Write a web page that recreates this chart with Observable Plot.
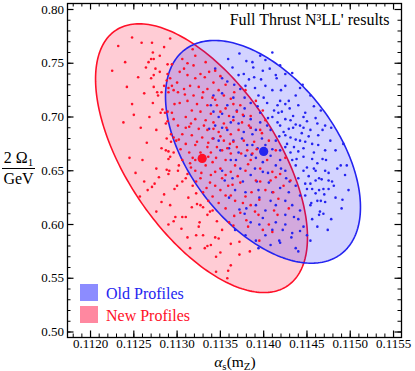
<!DOCTYPE html>
<html><head><meta charset="utf-8">
<script src="https://cdn.jsdelivr.net/npm/d3@7"></script>
<script src="https://cdn.jsdelivr.net/npm/@observablehq/plot@0.6"></script>
<style>body{margin:0;background:#fff} svg{display:block}</style>
</head><body><div id="chart"></div>
<script>
const titleText = "Full Thrust N\u00B3LL' results";
const seriesNames = ["Old Profiles", "New Profiles"];
const xTicks = [0.1120, 0.1125, 0.1130, 0.1135, 0.1140, 0.1145, 0.1150, 0.1155];
const xTickLabels = ["0.1120", "0.1125", "0.1130", "0.1135", "0.1140", "0.1145", "0.1150", "0.1155"];
const yTicks = [0.50, 0.55, 0.60, 0.65, 0.70, 0.75, 0.80];
const yTickLabels = ["0.50", "0.55", "0.60", "0.65", "0.70", "0.75", "0.80"];
const xMinor = d3.range(1118, 1156).map(d => d / 10000);
const yMinor = d3.range(50, 81).map(d => d / 100);

// ellipse parameters: center, half-extents, correlation
const newEllipse = {cx: 0.113282, cy: 0.6617, sx: 0.001224, sy: 0.1250, rho: -0.589};
const oldEllipse = {cx: 0.113992, cy: 0.6676, sx: 0.001126, sy: 0.1036, rho: -0.497};
const newCenter = [0.11329, 0.6615];
const oldCenter = [0.11400, 0.668];

const newProfiles = [
[0.11248,0.774],[0.11259,0.769],[0.11271,0.769],[0.11292,0.773],[0.11232,0.766],[0.11272,0.760],[0.11240,0.751],[0.11270,0.754],
[0.11273,0.754],[0.11267,0.751],[0.11264,0.746],[0.11275,0.745],[0.11225,0.743],[0.11280,0.742],[0.11289,0.749],[0.11294,0.749],
[0.11270,0.736],[0.11273,0.739],[0.11289,0.740],[0.11288,0.734],[0.11292,0.736],[0.11242,0.728],[0.11273,0.728],[0.11285,0.729],
[0.11290,0.727],[0.11294,0.729],[0.11277,0.723],[0.11282,0.723],[0.11278,0.720],[0.11290,0.723],[0.11296,0.725],[0.11301,0.723],
[0.11297,0.712],[0.11283,0.707],[0.11281,0.704],[0.11286,0.704],[0.11289,0.705],[0.11250,0.702],[0.11294,0.704],[0.11287,0.694],
[0.11289,0.696],[0.11296,0.698],[0.11301,0.692],[0.11293,0.684],[0.11296,0.681],[0.11288,0.680],[0.11299,0.678],[0.11293,0.677],
[0.11282,0.671],[0.11287,0.669],[0.11290,0.668],[0.11296,0.667],
[0.11260,0.660],[0.11292,0.663],[0.11290,0.661],[0.11302,0.655],[0.11288,0.651],[0.11291,0.650],[0.11290,0.647],[0.11279,0.644],
[0.11274,0.638],[0.11271,0.635],[0.11266,0.632],[0.11300,0.636],[0.11297,0.633],[0.11282,0.621],
[0.11306,0.754],[0.11312,0.750],[0.11319,0.748],[0.11308,0.745],[0.11327,0.740],[0.11312,0.739],[0.11321,0.736],[0.11332,0.737],
[0.11342,0.732],[0.11315,0.729],[0.11308,0.726],[0.11325,0.728],[0.11335,0.726],[0.11348,0.725],[0.11319,0.720],[0.11329,0.718],
[0.11341,0.718],[0.11354,0.720],[0.11362,0.717],[0.11312,0.715],[0.11323,0.712],[0.11335,0.711],[0.11346,0.711],[0.11365,0.712],
[0.11317,0.706],[0.11327,0.705],[0.11339,0.703],[0.11350,0.705],[0.11360,0.701],[0.11369,0.705],[0.11310,0.700],[0.11321,0.698],
[0.11333,0.697],[0.11342,0.695],[0.11354,0.694],[0.11365,0.697],[0.11375,0.695],[0.11383,0.692],[0.11314,0.691],[0.11325,0.689],
[0.11335,0.688],[0.11348,0.686],[0.11362,0.684],[0.11371,0.688],[0.11306,0.684],[0.11317,0.683],[0.11329,0.681],[0.11341,0.680],
[0.11354,0.678],[0.11365,0.677],[0.11377,0.678],[0.11389,0.677],[0.11310,0.675],[0.11321,0.674],[0.11335,0.672],[0.11346,0.672],
[0.11358,0.671],[0.11369,0.672],[0.11381,0.669],[0.11314,0.667],[0.11327,0.667],[0.11339,0.667],[0.11362,0.666],[0.11387,0.666],
[0.11312,0.647],[0.11306,0.607],[0.11310,0.607],[0.11323,0.619],[0.11327,0.618],[0.11330,0.616],[0.11338,0.612],[0.11341,0.613],
[0.11335,0.609],[0.11326,0.602],[0.11325,0.598],[0.11330,0.590],[0.11344,0.588],[0.11348,0.587],[0.11360,0.602],[0.11365,0.599],
[0.11362,0.582],[0.11339,0.581],[0.11315,0.578],[0.11350,0.574],[0.11372,0.572],[0.11362,0.562],[0.11359,0.557],[0.11358,0.550],
[0.11306,0.660],[0.11315,0.657],[0.11333,0.655],[0.11341,0.658],[0.11350,0.652],[0.11321,0.650],[0.11310,0.643],[0.11327,0.643],
[0.11339,0.646],[0.11352,0.643],[0.11362,0.649],[0.11318,0.636],[0.11334,0.634],[0.11344,0.636],[0.11359,0.636],[0.11373,0.639],
[0.11322,0.629],[0.11341,0.626],[0.11356,0.627],[0.11367,0.622],[0.11379,0.626],[0.11313,0.625],[0.11348,0.620],[0.11385,0.618],
[0.11373,0.611],[0.11394,0.609],[0.11382,0.598],[0.11399,0.595],
[0.11336,0.663],[0.11321,0.660],[0.11356,0.660],[0.11367,0.655],[0.11379,0.650],[0.11385,0.660],[0.11396,0.652],[0.11391,0.641],
[0.11402,0.632],[0.11408,0.641],
[0.11410,0.649],[0.11414,0.644],[0.11419,0.647],[0.11411,0.630],[0.11417,0.624],[0.11423,0.636],[0.11431,0.641],[0.11412,0.613],
[0.11416,0.609],[0.11410,0.593],[0.11429,0.615],
[0.11402,0.697],[0.11396,0.688],[0.11406,0.678],[0.11414,0.669],[0.11425,0.662],[0.11399,0.706],[0.11391,0.715],[0.11379,0.725],
[0.11373,0.711],[0.11385,0.701],[0.11333,0.751],[0.11321,0.757],[0.11344,0.743],
[0.11255,0.737],[0.11262,0.722],[0.11248,0.712],[0.11268,0.700],[0.11258,0.690],[0.11276,0.688],[0.11265,0.676],[0.11238,0.695],
[0.11272,0.713],[0.11280,0.757],[0.11285,0.765],
[0.11252,0.648],[0.11262,0.640],[0.11276,0.652],[0.11285,0.628],[0.11292,0.618],[0.11276,0.612],[0.11298,0.607],[0.11305,0.596],
[0.11290,0.600],[0.11312,0.588],[0.11322,0.590],[0.11296,0.603],[0.11335,0.580],[0.11345,0.570],[0.11345,0.556],[0.11332,0.578],
[0.11352,0.595],[0.11346,0.603],[0.11257,0.626],[0.11245,0.662],
[0.11303,0.713],[0.11309,0.721],[0.11330,0.723],[0.11344,0.716],[0.11356,0.708],[0.11316,0.694],[0.11331,0.692],[0.11342,0.689],
[0.11357,0.690],[0.11302,0.679],[0.11323,0.677],[0.11336,0.676],[0.11350,0.682],[0.11361,0.675],[0.11304,0.670],[0.11318,0.662],
[0.11345,0.662],[0.11352,0.669],[0.11374,0.666],[0.11301,0.650],[0.11316,0.653],[0.11328,0.648],[0.11344,0.649],[0.11356,0.646],
[0.11370,0.645],[0.11306,0.640],[0.11322,0.640],[0.11338,0.639],[0.11364,0.637],[0.11330,0.630],[0.11350,0.632],[0.11362,0.627],
[0.11376,0.620],[0.11336,0.622],[0.11356,0.615],[0.11366,0.608],[0.11317,0.616],[0.11386,0.630],[0.11395,0.623],[0.11390,0.612],
[0.11380,0.604],[0.11396,0.640],[0.11382,0.656],[0.11392,0.670],[0.11398,0.685],[0.11385,0.690],[0.11376,0.702],[0.11366,0.723],
[0.11356,0.730],[0.11337,0.742],[0.11350,0.738],[0.11318,0.763],[0.11303,0.742],[0.11300,0.732],[0.11310,0.690],[0.11404,0.660],
[0.11406,0.600],[0.11395,0.585],[0.11372,0.584],[0.11384,0.575]
];

const oldProfiles = [
[0.11372,0.759],[0.11387,0.751],[0.11388,0.746],[0.11364,0.746],[0.11344,0.745],[0.11371,0.739],[0.11377,0.740],[0.11383,0.735],
[0.11389,0.737],[0.11352,0.736],[0.11358,0.733],[0.11379,0.729],[0.11373,0.726],[0.11394,0.720],[0.11400,0.718],[0.11404,0.713],
[0.11393,0.710],[0.11385,0.713],[0.11378,0.708],[0.11369,0.706],[0.11358,0.711],[0.11339,0.711],[0.11342,0.705],[0.11352,0.703],
[0.11377,0.701],[0.11385,0.698],[0.11396,0.695],[0.11404,0.692],[0.11371,0.694],[0.11362,0.695],[0.11344,0.692],[0.11337,0.689],
[0.11358,0.688],[0.11377,0.686],[0.11387,0.684],[0.11398,0.680],[0.11342,0.680],[0.11365,0.678],[0.11381,0.674],[0.11393,0.671],
[0.11350,0.669],[0.11371,0.667],
[0.11414,0.739],[0.11415,0.736],[0.11410,0.725],[0.11419,0.715],[0.11425,0.712],[0.11429,0.715],[0.11416,0.711],[0.11412,0.706],
[0.11421,0.705],[0.11434,0.701],[0.11425,0.698],[0.11416,0.695],[0.11437,0.693],[0.11450,0.696],[0.11454,0.688],[0.11446,0.690],
[0.11444,0.685],[0.11429,0.689],[0.11423,0.686],[0.11431,0.681],[0.11437,0.679],[0.11442,0.678],[0.11448,0.677],[0.11456,0.675],
[0.11435,0.672],[0.11446,0.671],[0.11458,0.667],[0.11427,0.675],
[0.11466,0.706],[0.11471,0.692],[0.11463,0.683],[0.11477,0.678],[0.11425,0.729],[0.11437,0.720],[0.11402,0.729],[0.11399,0.743],
[0.11446,0.663],[0.11456,0.661],[0.11468,0.661],[0.11462,0.657],[0.11450,0.653],[0.11458,0.652],[0.11446,0.650],[0.11464,0.643],
[0.11467,0.642],[0.11460,0.641],[0.11475,0.641],[0.11479,0.640],[0.11454,0.638],[0.11481,0.636],[0.11450,0.633],[0.11456,0.633],
[0.11464,0.632],[0.11469,0.633],[0.11475,0.633],[0.11460,0.629],[0.11462,0.622],[0.11466,0.622],[0.11471,0.621],[0.11491,0.623],
[0.11465,0.612],[0.11469,0.610],[0.11464,0.609],[0.11456,0.605],[0.11474,0.595],[0.11446,0.598],[0.11442,0.594],[0.11433,0.592],
[0.11432,0.588],[0.11435,0.607],
[0.11391,0.662],[0.11408,0.664],[0.11419,0.660],[0.11431,0.667],[0.11414,0.655],[0.11425,0.650],[0.11437,0.655],[0.11399,0.649],
[0.11385,0.646],[0.11373,0.652],[0.11364,0.643],[0.11406,0.639],[0.11419,0.634],[0.11437,0.636],[0.11442,0.627],[0.11394,0.632],
[0.11379,0.630],[0.11367,0.632],[0.11355,0.641],[0.11408,0.622],[0.11425,0.622],[0.11391,0.618],[0.11372,0.614],[0.11399,0.606],
[0.11414,0.602],[0.11425,0.609],[0.11385,0.602],[0.11402,0.590],[0.11419,0.583],[0.11437,0.578],[0.11367,0.595],[0.11442,0.613],
[0.11454,0.618],[0.11454,0.585],[0.11362,0.660],[0.11379,0.664],[0.11402,0.674],[0.11414,0.678],[0.11419,0.669],[0.11408,0.688],
[0.11419,0.692],[0.11359,0.754],[0.11396,0.757],
[0.11440,0.711],[0.11448,0.704],[0.11460,0.699],[0.11431,0.697],[0.11442,0.692],[0.11468,0.688],[0.11483,0.669],[0.11489,0.655],
[0.11494,0.646],[0.11471,0.650],[0.11440,0.643],[0.11448,0.627],[0.11429,0.630],[0.11414,0.618],[0.11433,0.618],[0.11402,0.613],
[0.11422,0.595],[0.11408,0.581],[0.11391,0.585],[0.11379,0.590],[0.11394,0.578],[0.11471,0.669],[0.11463,0.674],[0.11438,0.661],
[0.11452,0.645],[0.11426,0.643],[0.11399,0.658],[0.11387,0.674],[0.11417,0.704],[0.11405,0.699],[0.11391,0.688],[0.11425,0.683],
[0.11442,0.727],[0.11454,0.720],[0.11433,0.741],[0.11419,0.748],[0.11402,0.753],
[0.11352,0.722],[0.11366,0.730],[0.11378,0.718],[0.11390,0.727],[0.11397,0.735],[0.11407,0.745],[0.11420,0.725],[0.11430,0.708],
[0.11410,0.700],[0.11396,0.704],[0.11385,0.690],[0.11365,0.700],[0.11352,0.690],[0.11348,0.678],[0.11360,0.671],[0.11375,0.680],
[0.11386,0.665],[0.11397,0.667],[0.11410,0.670],[0.11425,0.672],[0.11440,0.668],[0.11452,0.682],[0.11462,0.694],[0.11478,0.690],
[0.11472,0.660],[0.11485,0.652],[0.11475,0.648],[0.11460,0.650],[0.11433,0.660],[0.11420,0.652],[0.11405,0.648],[0.11390,0.652],
[0.11376,0.640],[0.11392,0.640],[0.11410,0.630],[0.11430,0.640],[0.11448,0.638],[0.11470,0.628],[0.11483,0.625],[0.11455,0.620],
[0.11440,0.605],[0.11425,0.600],[0.11410,0.595],[0.11395,0.600],[0.11395,0.625],[0.11380,0.615],[0.11360,0.625],[0.11352,0.650],
[0.11368,0.660],[0.11348,0.700],[0.11342,0.720],[0.11365,0.718],[0.11418,0.682],[0.11434,0.690],[0.11446,0.700],[0.11458,0.710],
[0.11425,0.740],[0.11445,0.730],[0.11410,0.760],[0.11380,0.752],[0.11498,0.632],[0.11490,0.615],[0.11478,0.605],[0.11462,0.598],
[0.11450,0.590],[0.11440,0.575],[0.11418,0.585],[0.11378,0.610],[0.11496,0.655],[0.11492,0.675]
];

function outline(e) {
  const pts = [];
  const k = Math.sqrt(1 - e.rho * e.rho);
  for (let i = 0; i < 240; i++) {
    const t = 2 * Math.PI * i / 240;
    pts.push({x: e.cx + e.sx * Math.cos(t), y: e.cy + e.sy * (e.rho * Math.cos(t) + k * Math.sin(t))});
  }
  return pts;
}

const W = 415, H = 371, mL = 67, mR = 14, mT = 3, mB = 34;
const innerW = W - mL - mR, innerH = H - mT - mB;
const RED = "#ff1028", BLUE = "#2424f0";
const FF = "Liberation Serif, Times New Roman, serif";

const chart = Plot.plot({
  width: W, height: H,
  marginLeft: mL, marginRight: mR, marginTop: mT, marginBottom: mB,
  style: {fontFamily: FF, fontSize: "13px", background: "white", color: "black"},
  x: {domain: [0.111734, 0.115592], axis: null},
  y: {domain: [0.49489, 0.80558], axis: null},
  marks: [
    Plot.line(outline(newEllipse), {x: "x", y: "y", curve: "linear-closed", fill: "rgb(255,0,45)", fillOpacity: 0.2, stroke: RED, strokeWidth: 1.6}),
    Plot.line(outline(oldEllipse), {x: "x", y: "y", curve: "linear-closed", fill: "rgb(20,20,255)", fillOpacity: 0.19, stroke: BLUE, strokeWidth: 1.6}),
    Plot.dot(oldProfiles, {x: d => d[0], y: d => d[1], r: 1.3, fill: BLUE, stroke: null}),
    Plot.dot(newProfiles, {x: d => d[0], y: d => d[1], r: 1.3, fill: RED, stroke: null}),
    Plot.dot([newCenter], {x: d => d[0], y: d => d[1], r: 4.6, fill: RED, stroke: null}),
    Plot.dot([oldCenter], {x: d => d[0], y: d => d[1], r: 4.6, fill: BLUE, stroke: null}),
    // ticks (inside frame, all four sides)
    Plot.tickX(xMinor, {x: d => d, insetTop: innerH - 3.5, stroke: "black", strokeWidth: 1}),
    Plot.tickX(xMinor, {x: d => d, insetBottom: innerH - 3.5, stroke: "black", strokeWidth: 1}),
    Plot.tickX(xTicks, {x: d => d, insetTop: innerH - 6.5, stroke: "black", strokeWidth: 1.2}),
    Plot.tickX(xTicks, {x: d => d, insetBottom: innerH - 6.5, stroke: "black", strokeWidth: 1.2}),
    Plot.tickY(yMinor, {y: d => d, insetRight: innerW - 3.5, stroke: "black", strokeWidth: 1}),
    Plot.tickY(yMinor, {y: d => d, insetLeft: innerW - 3.5, stroke: "black", strokeWidth: 1}),
    Plot.tickY(yTicks, {y: d => d, insetRight: innerW - 6.5, stroke: "black", strokeWidth: 1.2}),
    Plot.tickY(yTicks, {y: d => d, insetLeft: innerW - 6.5, stroke: "black", strokeWidth: 1.2}),
    Plot.frame({stroke: "black", strokeWidth: 1.3}),
    Plot.text(xTicks, {x: d => d, text: (d, i) => xTickLabels[i], frameAnchor: "bottom", dy: 10, fontSize: 13, fontFamily: FF, fill: "black"}),
    Plot.text(yTicks, {y: d => d, text: (d, i) => yTickLabels[i], frameAnchor: "left", textAnchor: "end", dx: -3.5, fontSize: 13, fontFamily: FF, fill: "black"}),
    Plot.text([titleText], {text: d => d, frameAnchor: "top-right", textAnchor: "end", lineAnchor: "bottom", dx: -12, dy: 21, fontSize: 16, fontFamily: FF, fill: "black"})
  ]
});
document.getElementById("chart").appendChild(chart);

// axis labels and legend
const svg = d3.select(chart);
// y label: fraction 2 Ω1 / GeV
const num = svg.append("text").attr("x", 18.5).attr("y", 163).attr("text-anchor", "middle")
  .attr("font-family", FF).attr("font-size", 16).attr("fill", "black");
num.append("tspan").text("2 \u03A9");
num.append("tspan").attr("font-size", 11).attr("dy", 3).text("1");
svg.append("line").attr("x1", 2).attr("x2", 35).attr("y1", 168.5).attr("y2", 168.5).attr("stroke", "black").attr("stroke-width", 1);
svg.append("text").attr("x", 18.5).attr("y", 184).attr("text-anchor", "middle")
  .attr("font-family", FF).attr("font-size", 16).attr("fill", "black").text("GeV");
// x label: αs(mZ)
const xl = svg.append("text").attr("x", 235).attr("y", 366.5).attr("text-anchor", "middle")
  .attr("font-family", FF).attr("font-size", 15.5).attr("fill", "black");
xl.append("tspan").attr("font-style", "italic").text("\u03B1");
xl.append("tspan").attr("font-size", 11).attr("dy", 3).text("s");
xl.append("tspan").attr("dy", -3).text("(m");
xl.append("tspan").attr("font-size", 11).attr("dy", 3).text("Z");
xl.append("tspan").attr("dy", -3).text(")");
// legend
const legendColors = ["#8c8cff", "#ff88a0"];
const legendText = [BLUE, RED];
seriesNames.forEach((name, i) => {
  svg.append("rect").attr("x", 80).attr("y", 284 + i * 22).attr("width", 18).attr("height", 17).attr("fill", legendColors[i]);
  svg.append("text").attr("x", 106).attr("y", 299 + i * 21.5).attr("text-anchor", "start")
    .attr("font-family", FF).attr("font-size", 16).attr("fill", legendText[i]).text(name);
});
</script>
</body></html>
